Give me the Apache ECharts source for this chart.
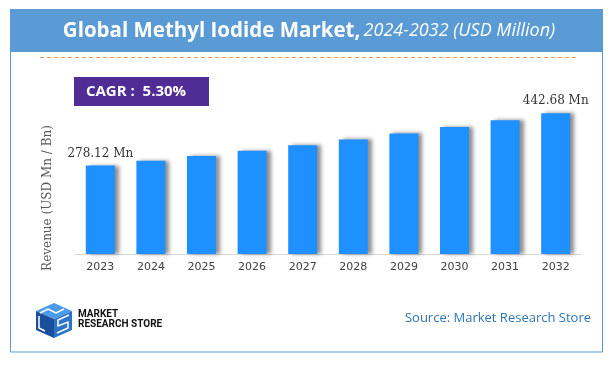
<!DOCTYPE html>
<html><head><meta charset="utf-8">
<script src="https://cdn.jsdelivr.net/npm/echarts@6/dist/echarts.min.js"></script>
<style>html,body{margin:0;padding:0;background:#fff}#c{width:612px;height:365px}</style>
</head><body><div id="c"></div>
<script>
var years = ['2023','2024','2025','2026','2027','2028','2029','2030','2031','2032'];
var revenue = [278.12, 292.9, 308.4, 324.7, 341.9, 360.1, 379.1, 399.2, 420.4, 442.68];
var labelled = {0: '278.12 Mn', 9: '442.68 Mn'};

var chart = echarts.init(document.getElementById('c'), null, {renderer: 'canvas'});
var data = revenue.map(function (v, i) {
  var d = {value: v};
  if (labelled[i] !== undefined) {
    d.label = {show: true, position: 'top', distance: 6, formatter: labelled[i],
      fontFamily: 'DejaVu Serif', fontSize: 12, color: '#333'};
  }
  return d;
});
chart.setOption({
  animation: false,
  grid: {left: 75, right: 31, top: 95, bottom: 111},
  xAxis: {type: 'category', data: years,
    axisLine: {show: true, lineStyle: {color: '#d9d9d9', width: 1}},
    axisTick: {show: false},
    axisLabel: {margin: 8, fontFamily: 'DejaVu Sans', fontSize: 11, color: '#404040'}},
  yAxis: {type: 'value', min: 0, max: 500, show: false},
  series: [{type: 'bar', data: data, barWidth: 29,
    itemStyle: {color: '#1E90FF', shadowColor: 'rgba(0,0,0,0.45)', shadowBlur: 4, shadowOffsetX: 4, shadowOffsetY: 0},
    label: {show: false}}],
  graphic: [
    {type: 'rect', shape: {x: 10.5, y: 9.5, width: 592, height: 342.5}, style: {fill: 'none', stroke: '#5B9BD5', lineWidth: 1}, silent: true},
    {type: 'rect', shape: {x: 10, y: 9, width: 593, height: 43}, style: {fill: '#5B9BD5'}},
    {type: 'text', x: 309, y: 31, style: {
      text: '{b|Global Methyl Iodide Market,} {i|2024-2032 (USD Million)}',
      align: 'center', verticalAlign: 'middle',
      rich: {b: {fontFamily: 'Open Sans', fontWeight: 'bold', fontSize: 20.5, fill: '#fff'},
             i: {fontFamily: 'Open Sans', fontStyle: 'italic', fontSize: 18, fill: '#fff'}}}},
    {type: 'line', shape: {x1: 40, y1: 57.5, x2: 578, y2: 57.5}, style: {stroke: '#F29A5E', lineWidth: 1, lineDash: [4, 3]}},
    {type: 'rect', shape: {x: 74, y: 77, width: 135, height: 29}, style: {fill: '#4F2D94'}},
    {type: 'text', x: 136, y: 92, style: {text: 'CAGR :  5.30%', align: 'center', verticalAlign: 'middle',
      fontFamily: 'Open Sans', fontWeight: 'bold', fontSize: 15, fill: '#fff'}},
    {type: 'text', x: 48, y: 198, rotation: Math.PI / 2, style: {text: 'Revenue (USD Mn / Bn)', align: 'center', verticalAlign: 'middle',
      fontFamily: 'DejaVu Serif', fontSize: 12, fill: '#595959'}},
    {type: 'text', x: 591, y: 318, style: {text: 'Source: Market Research Store', align: 'right', verticalAlign: 'middle',
      fontFamily: 'Open Sans', fontSize: 13, fill: '#2E75B6'}},
    {type: 'polygon', shape: {points: [[54,303],[72,311],[54,319],[36,311]]}, style: {fill: '#4A9BEA'}},
    {type: 'polygon', shape: {points: [[36,311],[54,319],[54,338],[36,330]]}, style: {fill: '#1B4F9C'}},
    {type: 'polygon', shape: {points: [[54,319],[72,311],[72,330],[54,338]]}, style: {fill: '#2B74C9'}},
    {type: 'polyline', shape: {points: [[40,313],[48,309],[56,313],[64,309]]}, style: {stroke: '#fff', lineWidth: 1.5, fill: 'none'}},
    {type: 'polyline', shape: {points: [[39,316],[39,328],[45,331]]}, style: {stroke: '#fff', lineWidth: 1.5, fill: 'none'}},
    {type: 'polyline', shape: {points: [[69,315],[58,320],[58,326],[68,322],[68,328],[57,333]]}, style: {stroke: '#fff', lineWidth: 1.5, fill: 'none'}},
    {type: 'text', x: 78, y: 314, style: {text: 'MARKET', verticalAlign: 'middle', fontFamily: 'Roboto', fontWeight: 'bold', fontSize: 10, fill: '#111'}},
    {type: 'text', x: 78, y: 324, style: {text: 'RESEARCH STORE', verticalAlign: 'middle', fontFamily: 'Roboto', fontWeight: 'bold', fontSize: 10, fill: '#111'}}
  ]
});
</script></body></html>
